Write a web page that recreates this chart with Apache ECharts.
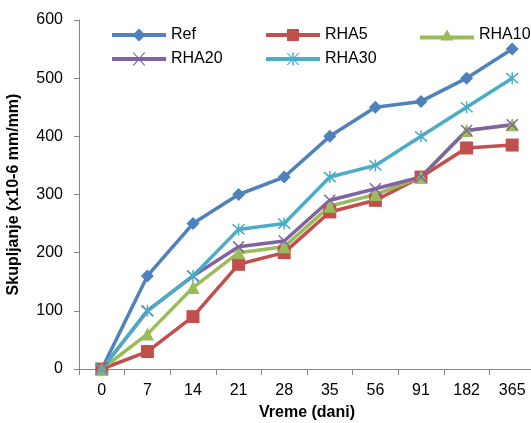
<!DOCTYPE html>
<html>
<head>
<meta charset="utf-8">
<script src="https://cdn.jsdelivr.net/npm/echarts@6/dist/echarts.min.js"></script>
<style>
  html, body { margin: 0; padding: 0; background: #fff; }
  #chart { width: 531px; height: 423px; }
</style>
</head>
<body>
<div id="chart"></div>
<script>
// Shrinkage measurements over curing time
const days = ['0', '7', '14', '21', '28', '35', '56', '91', '182', '365'];
const yTicks = [0, 100, 200, 300, 400, 500, 600];

const ref   = [0, 160, 250, 300, 330, 400, 450, 460, 500, 550];
const rha5  = [0, 30, 90, 180, 200, 270, 290, 330, 380, 385];
const rha10 = [0, 60, 140, 200, 210, 280, 300, 330, 410, 420];
const rha20 = [0, 100, 160, 210, 220, 290, 310, 330, 410, 420];
const rha30 = [0, 100, 160, 240, 250, 330, 350, 400, 450, 500];

const FONT = 'Liberation Sans';

// plot markers (stroked outlines for the cross / asterisk)
const crossPath = 'path://M0,0L10,10M10,0L0,10';
const starPath = 'path://M0,0L10,10M10,0L0,10M5,-1L5,11';

// legend icons: thick line segment with the marker in the middle (54 px wide)
const bar = 'M0,4.5L54,4.5L54,8.5L0,8.5Z';
const legendIcons = {
  diamond: 'path://' + bar + 'M27,0L33.5,6.5L27,13L20.5,6.5Z',
  square: 'path://' + bar + 'M21,0.5L33,0.5L33,12.5L21,12.5Z',
  triangle: 'path://M0,6L54,6L54,10L0,10Z' + 'M27,0L33.5,11L20.5,11Z',
  cross: 'path://' + bar + 'M20.5,0L22,0L33.5,13L32,13ZM32,0L33.5,0L22,13L20.5,13Z',
  star: 'path://' + bar + 'M20.5,0.5L22,0.5L33.5,12.5L32,12.5ZM32,0.5L33.5,0.5L22,12.5L20.5,12.5ZM26.25,0L27.75,0L27.75,13L26.25,13Z'
};

const seriesDefs = [
  { name: 'Ref',   data: ref,   color: '#4F81BD', symbol: 'diamond', size: 13, stroke: false, icon: legendIcons.diamond, iconH: 13 },
  { name: 'RHA5',  data: rha5,  color: '#C0504D', symbol: 'rect',    size: 13, stroke: false, icon: legendIcons.square, iconH: 13 },
  { name: 'RHA10', data: rha10, color: '#9BBB59', symbol: 'triangle',size: 13, stroke: false, icon: legendIcons.triangle, iconH: 11 },
  { name: 'RHA20', data: rha20, color: '#8064A2', symbol: crossPath, size: 11, stroke: true,  icon: legendIcons.cross, iconH: 13 },
  { name: 'RHA30', data: rha30, color: '#4BACC6', symbol: starPath,  size: 12, stroke: true,  icon: legendIcons.star, iconH: 13 }
];

const legendPos = [
  { left: 112, top: 27 },
  { left: 266, top: 27 },
  { left: 420, top: 27 },
  { left: 112, top: 51 },
  { left: 266, top: 51 }
];

const chart = echarts.init(document.getElementById('chart'), null, { renderer: 'canvas' });

chart.setOption({
  animation: false,
  backgroundColor: '#ffffff',
  grid: { left: 79, top: 20, bottom: 54, width: 456, containLabel: false, outerBoundsMode: 'none' },
  legend: seriesDefs.map((s, i) => ({
    data: [{ name: s.name, icon: s.icon }],
    left: legendPos[i].left,
    top: legendPos[i].top,
    padding: 0,
    itemWidth: 54,
    itemHeight: s.iconH,
    itemStyle: { borderWidth: 0 },
    textStyle: { fontFamily: FONT, fontSize: 16, color: '#000' }
  })),
  xAxis: {
    type: 'category',
    data: days,
    boundaryGap: true,
    name: 'Vreme (dani)',
    nameLocation: 'middle',
    nameGap: 36,
    nameTextStyle: { fontFamily: FONT, fontSize: 16, fontWeight: 'bold', color: '#000' },
    axisLine: { lineStyle: { color: '#868686', width: 1 } },
    axisTick: { show: true, length: 6, alignWithLabel: false, lineStyle: { color: '#868686' } },
    axisLabel: { fontFamily: FONT, fontSize: 16, color: '#000', margin: 14, interval: 0 },
    splitLine: { show: false }
  },
  yAxis: {
    type: 'value',
    min: yTicks[0],
    max: yTicks[yTicks.length - 1],
    interval: 100,
    name: 'Skupljanje (x10-6 mm/mm)',
    nameLocation: 'middle',
    nameGap: 57,
    nameTextStyle: { fontFamily: FONT, fontSize: 16, fontWeight: 'bold', color: '#000' },
    axisLine: { show: true, lineStyle: { color: '#868686', width: 1 } },
    axisTick: { show: true, length: 5, lineStyle: { color: '#868686' } },
    axisLabel: { fontFamily: FONT, fontSize: 16, color: '#000', margin: 16 },
    splitLine: { show: false }
  },
  series: seriesDefs.map(s => ({
    name: s.name,
    type: 'line',
    data: s.data,
    symbol: s.symbol,
    symbolSize: s.size,
    showAllSymbol: true,
    lineStyle: { color: s.color, width: 3.5 },
    itemStyle: s.stroke
      ? { color: s.color, borderColor: s.color, borderWidth: 1.5 }
      : { color: s.color, borderWidth: 0 },
    emphasis: { disabled: true }
  }))
});
</script>
</body>
</html>
